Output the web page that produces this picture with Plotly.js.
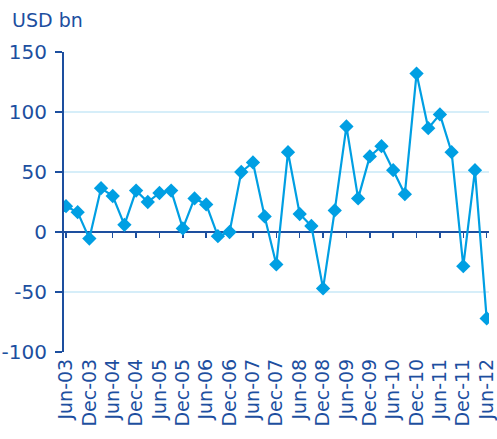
<!DOCTYPE html>
<html>
<head>
<meta charset="utf-8">
<script src="https://cdn.plot.ly/plotly-3.0.1.min.js"></script>
<style>html,body{margin:0;padding:0;background:#fff}#chart{width:497px;height:439px}</style>
</head>
<body>
<div id="chart"></div>
<script>
const quarters = ["Jun-03","Sep-03","Dec-03","Mar-04","Jun-04","Sep-04","Dec-04","Mar-05","Jun-05","Sep-05","Dec-05","Mar-06","Jun-06","Sep-06","Dec-06","Mar-07","Jun-07","Sep-07","Dec-07","Mar-08","Jun-08","Sep-08","Dec-08","Mar-09","Jun-09","Sep-09","Dec-09","Mar-10","Jun-10","Sep-10","Dec-10","Mar-11","Jun-11","Sep-11","Dec-11","Mar-12","Jun-12"];
const values = [21.5,16.5,-5.5,36.5,30,6,34.5,25,32.5,34.5,3,28,23,-3.5,0,50,58,13,-27,66.5,15,5,-47,18,88,28,63,71.5,51.5,31.5,132,86.5,98,66.5,-28.5,51.5,-72];
const tickLabels = ["Jun-03","Dec-03","Jun-04","Dec-04","Jun-05","Dec-05","Jun-06","Dec-06","Jun-07","Dec-07","Jun-08","Dec-08","Jun-09","Dec-09","Jun-10","Dec-10","Jun-11","Dec-11","Jun-12"];
const yTickVals = [-100, -50, 0, 50, 100, 150];
const yTickText = ["-100", "-50", "0", "50", "100", "150"];

const dark = '#1d4f9f';
const bright = '#009fe3';
const font = 'DejaVu Sans, sans-serif';
const xr = [-0.17, 36.2];

const traces = [
  {x: quarters, y: values, xaxis: 'x', yaxis: 'y', type: 'scatter', mode: 'markers',
   marker: {opacity: 0}, hoverinfo: 'skip', showlegend: false},
  {x: quarters, y: values, xaxis: 'x2', yaxis: 'y', type: 'scatter', mode: 'lines+markers',
   line: {color: bright, width: 2.2},
   marker: {symbol: 'diamond', size: 11, color: bright}, showlegend: false}
];

const layout = {
  width: 497, height: 439,
  margin: {l: 64, r: 8, t: 52, b: 87},
  paper_bgcolor: '#fff', plot_bgcolor: '#fff',
  font: {family: font, color: dark, size: 20},
  showlegend: false,
  xaxis: {
    type: 'category', range: xr, tickmode: 'array', tickvals: tickLabels, ticktext: tickLabels,
    tickangle: -90, showgrid: false, zeroline: false, showline: false, ticks: '',
    tickfont: {family: font, color: dark, size: 19}, ticklabelstandoff: 2, fixedrange: true
  },
  xaxis2: {
    type: 'category', range: xr, overlaying: 'x', anchor: 'free', position: 0.4,
    tickmode: 'array', tickvals: tickLabels, showticklabels: false,
    showline: true, linecolor: dark, linewidth: 2, ticks: 'outside', ticklen: 5, tickwidth: 1.5,
    tickcolor: dark, showgrid: false, zeroline: false, layer: 'below traces'
  },
  yaxis: {
    range: [-100, 150], tickmode: 'array', tickvals: yTickVals, ticktext: yTickText,
    showline: true, linecolor: dark, linewidth: 2, ticks: 'outside', ticklen: 7, tickwidth: 1.5,
    tickcolor: dark, gridcolor: '#d6eef9', gridwidth: 2, zeroline: false,
    tickfont: {family: font, color: dark, size: 20}, ticklabelstandoff: 4
  },
  annotations: [{
    text: 'USD bn', xref: 'paper', yref: 'paper', x: -0.127, y: 1.15,
    xanchor: 'left', yanchor: 'top', showarrow: false,
    font: {family: font, color: dark, size: 19}
  }]
};

Plotly.newPlot('chart', traces, layout, {displayModeBar: false, staticPlot: true});
</script>
</body>
</html>
